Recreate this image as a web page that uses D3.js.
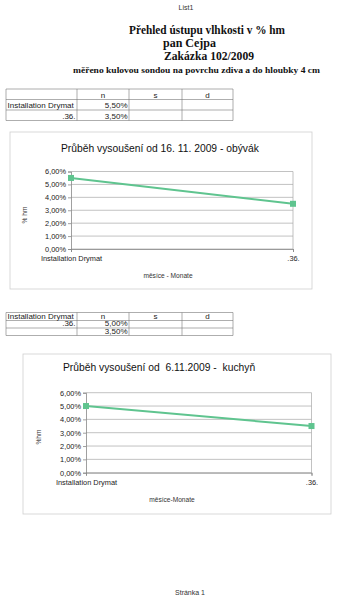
<!DOCTYPE html>
<html>
<head>
<meta charset="utf-8">
<script src="https://cdn.jsdelivr.net/npm/d3@7/dist/d3.min.js"></script>
<style>
  html, body { margin: 0; padding: 0; background: #fff; }
  svg text { white-space: pre; }
</style>
</head>
<body>
<svg id="page" width="349" height="600"></svg>
<script>
// ---- data ----
const categories = ["Installation Drymat", ".36."];
const livingRoom = [0.055, 0.035];   // obývák, % hm
const kitchen = [0.050, 0.035];      // kuchyň, % hm
const yTicks = [0, 0.01, 0.02, 0.03, 0.04, 0.05, 0.06];
const tableHeader = ["n", "s", "d"];

// Czech number format: decimal comma
const cz = d3.formatLocale({ decimal: ",", thousands: " ", grouping: [3], currency: ["", " Kč"] });
const pct = cz.format(".2%");

const svg = d3.select("#page");
const SANS = "'Liberation Sans', Arial, sans-serif";
const SERIF = "'Liberation Serif', 'Times New Roman', serif";
const GREEN = "#5fc48f";

// ---- page header ----
svg.append("text").attr("x", 186).attr("y", 10).attr("text-anchor", "middle")
  .attr("font-family", SANS).attr("font-size", 7).attr("fill", "#333").text("List1");

const headLines = [
  { t: "Přehled ústupu vlhkosti v % hm", x: 129, y: 34, s: 12.5, w: 156 },
  { t: "pan Cejpa", x: 163, y: 47, s: 12.5, w: 53 },
  { t: "Zakázka 102/2009", x: 164, y: 60, s: 12.5, w: 90 },
  { t: "měřeno kulovou sondou na povrchu zdiva a do hloubky 4 cm", x: 73, y: 73, s: 9.2, w: 247 }
];
svg.selectAll("text.head").data(headLines).join("text").attr("class", "head")
  .attr("x", d => d.x).attr("y", d => d.y)
  .attr("textLength", d => d.w).attr("lengthAdjust", "spacingAndGlyphs")
  .attr("font-family", SERIF).attr("font-weight", "bold")
  .attr("font-size", d => d.s).attr("fill", "#111").text(d => d.t);

// ---- small value tables ----
function drawTable(rows, colX, rowY) {
  const g = svg.append("g");
  const x0 = colX[0], x1 = colX[colX.length - 1];
  rowY.forEach(y => g.append("line").attr("x1", x0).attr("x2", x1).attr("y1", y).attr("y2", y)
    .attr("stroke", "#777").attr("stroke-width", 0.6));
  colX.forEach(x => g.append("line").attr("x1", x).attr("x2", x).attr("y1", rowY[0]).attr("y2", rowY[rowY.length - 1])
    .attr("stroke", "#777").attr("stroke-width", 0.6));
  rows.forEach((row, r) => {
    const yb = rowY[r + 1] - 2;
    row.forEach((cell, c) => {
      if (!cell) return;
      let x, anchor;
      if (cell.align === "left") { x = colX[c] + 1.5; anchor = "start"; }
      else if (cell.align === "right") { x = colX[c + 1] - 1.5; anchor = "end"; }
      else { x = (colX[c] + colX[c + 1]) / 2; anchor = "middle"; }
      g.append("text").attr("x", x).attr("y", yb).attr("text-anchor", anchor)
        .attr("font-family", SANS).attr("font-size", 8).attr("fill", "#222").text(cell.t);
    });
  });
}

const tableCols = [6, 77, 129, 182, 233];
drawTable([
  [null, ...tableHeader.map(t => ({ t, align: "center" }))],
  [{ t: categories[0], align: "left" }, { t: pct(livingRoom[0]), align: "right" }],
  [{ t: categories[1], align: "right" }, { t: pct(livingRoom[1]), align: "right" }]
], tableCols, [89, 99.5, 110, 120.5]);

drawTable([
  [{ t: categories[0], align: "left" }, ...tableHeader.map(t => ({ t, align: "center" }))],
  [{ t: categories[1], align: "right" }, { t: pct(kitchen[0]), align: "right" }],
  [null, { t: pct(kitchen[1]), align: "right" }]
], tableCols, [312.5, 320.5, 328, 335.5]);

// ---- line charts ----
function drawChart(o) {
  const g = svg.append("g");
  g.append("rect").attr("x", o.box[0]).attr("y", o.box[1])
    .attr("width", o.box[2] - o.box[0]).attr("height", o.box[3] - o.box[1])
    .attr("fill", "#fff").attr("stroke", "#cfcfcf").attr("stroke-width", 0.8);

  g.append("text").attr("x", o.titleX).attr("y", o.titleY)
    .attr("font-family", SANS).attr("font-size", 10.3).attr("fill", "#111").text(o.title);

  const x = d3.scalePoint().domain(categories).range([o.left, o.right]).padding(0);
  const y = d3.scaleLinear().domain([0, 0.06]).range([o.bottom, o.top]);

  // horizontal gridlines
  g.append("g").selectAll("line").data(yTicks).join("line")
    .attr("x1", o.left).attr("x2", o.right)
    .attr("y1", d => y(d)).attr("y2", d => y(d))
    .attr("stroke", "#a8a8a8").attr("stroke-width", 0.7);
  // plot-area right edge
  g.append("line").attr("x1", o.right).attr("x2", o.right).attr("y1", y(0.06)).attr("y2", y(0))
    .attr("stroke", "#a8a8a8").attr("stroke-width", 0.7);

  const yAxis = g.append("g").attr("transform", `translate(${o.left},0)`)
    .call(d3.axisLeft(y).tickValues(yTicks).tickFormat(pct).tickSize(3).tickPadding(2));
  const xAxis = g.append("g").attr("transform", `translate(0,${o.bottom})`)
    .call(d3.axisBottom(x).tickSize(3).tickPadding(o.catPad));
  [yAxis, xAxis].forEach(a => {
    a.select(".domain").attr("stroke", "#888").attr("stroke-width", 0.8);
    a.selectAll(".tick line").attr("stroke", "#888").attr("stroke-width", 0.8);
    a.selectAll("text").attr("font-family", SANS).attr("font-size", 7.4).attr("fill", "#222");
  });

  // y-axis title
  g.append("text").attr("transform", `translate(${o.yTitleX},${o.yTitleY}) rotate(-90)`)
    .attr("text-anchor", "middle").attr("font-family", SANS).attr("font-size", 6.6)
    .attr("fill", "#333").text(o.yTitle);
  // x-axis title
  g.append("text").attr("x", o.xTitleX).attr("y", o.xTitleY).attr("text-anchor", "middle")
    .attr("font-family", SANS).attr("font-size", 6.6).attr("fill", "#333").text(o.xTitle);

  const pts = categories.map((c, i) => [x(c), y(o.values[i])]);
  g.append("path").attr("d", d3.line()(pts)).attr("fill", "none")
    .attr("stroke", GREEN).attr("stroke-width", 2);
  g.selectAll("rect.mk").data(pts).join("rect").attr("class", "mk")
    .attr("x", d => d[0] - 3).attr("y", d => d[1] - 3).attr("width", 6).attr("height", 6)
    .attr("fill", GREEN);
}

drawChart({
  box: [10, 132, 312, 289],
  title: "Průběh vysoušení od 16. 11. 2009 - obývák", titleX: 61, titleY: 152,
  left: 71, right: 293, top: 171.5, bottom: 249, catPad: 4,
  yTitle: "% hm", yTitleX: 27, yTitleY: 215,
  xTitle: "měsíce - Monate", xTitleX: 168, xTitleY: 278,
  values: livingRoom
});

drawChart({
  box: [23, 354, 331, 514],
  title: "Průběh vysoušení od  6.11.2009 -  kuchyň", titleX: 63, titleY: 371,
  left: 86, right: 311.5, top: 392.7, bottom: 472.7, catPad: 4,
  yTitle: "%hm", yTitleX: 41, yTitleY: 437,
  xTitle: "měsíce-Monate", xTitleX: 172, xTitleY: 502,
  values: kitchen
});

// ---- page footer ----
svg.append("text").attr("x", 190).attr("y", 595).attr("text-anchor", "middle")
  .attr("font-family", SANS).attr("font-size", 7).attr("fill", "#333").text("Stránka 1");
</script>
</body>
</html>
